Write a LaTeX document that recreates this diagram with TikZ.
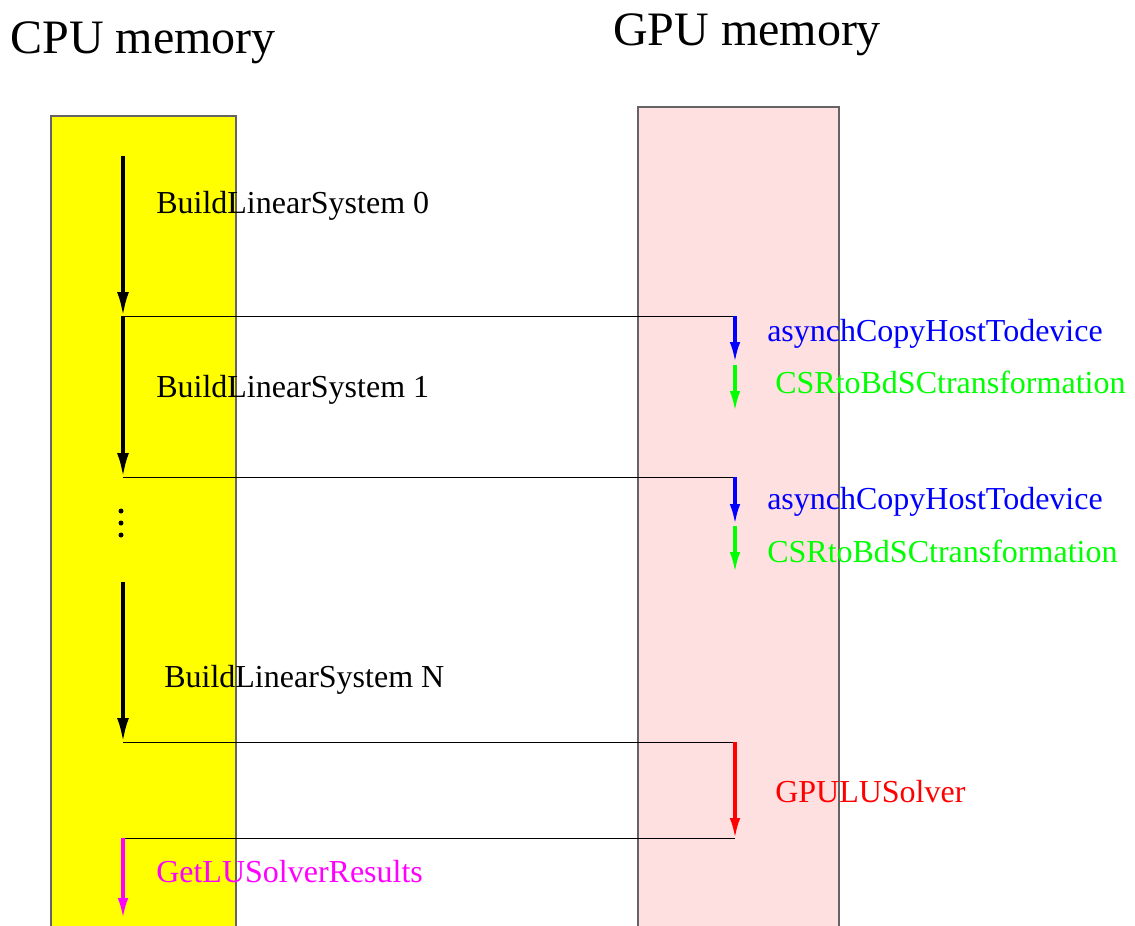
\documentclass[tikz,border=0pt]{standalone}
\usepackage{fontspec}
\setmainfont{Liberation Serif}
\usetikzlibrary{arrows.meta}
\definecolor{cpuyellow}{RGB}{255,255,0}
\definecolor{gpupink}{RGB}{255,224,224}
\definecolor{boxedge}{RGB}{100,100,100}
\definecolor{copyblue}{RGB}{0,0,255}
\definecolor{transgreen}{RGB}{0,255,0}
\definecolor{solvered}{RGB}{255,0,0}
\definecolor{resmagenta}{RGB}{255,0,255}
\begin{document}
\begin{tikzpicture}[x=0.75pt,y=-0.75pt,line cap=butt,line join=miter,
  title/.style={font=\fontsize{36}{40}\selectfont},
  lbl/.style={anchor=west,inner sep=0pt,font=\fontsize{24}{26}\selectfont},
  cpuarrow/.style={-{Latex[length=18pt,width=9pt]},line width=2.6pt},
  gpuarrow/.style={-{Latex[length=15pt,width=8pt]},line width=2.3pt},
  link/.style={line width=0.7pt}]
\useasboundingbox (0,0) rectangle (1135,925);
% memory columns
\fill[cpuyellow] (51,116) rectangle (236,930);
\draw[boxedge,line width=0.8pt] (51,930) -- (51,116) -- (236,116) -- (236,930);
\fill[gpupink] (638,107) rectangle (839,930);
\draw[boxedge,line width=0.8pt] (638,930) -- (638,107) -- (839,107) -- (839,930);
\node[title] (cpu) at (143,43) {CPU memory};
\node[title] (gpu) at (747,35) {GPU memory};
% cpu side points
\coordinate (c0) at (123,156);
\coordinate (c1) at (123,316);
\coordinate (c2) at (123,477);
\coordinate (c3) at (123,582);
\coordinate (c4) at (123,742);
\coordinate (c5) at (123,838);
\coordinate (c6) at (123,918);
% gpu side points
\coordinate (g1) at (735,316);
\coordinate (g1a) at (735,362);
\coordinate (g1b) at (735,365);
\coordinate (g1c) at (735,411);
\coordinate (g2) at (735,477);
\coordinate (g2a) at (735,524);
\coordinate (g2b) at (735,526);
\coordinate (g2c) at (735,572);
\coordinate (g3) at (735,742);
\coordinate (g4) at (735,838);
% build steps
\draw[cpuarrow] (c0) -- (c1);
\draw[cpuarrow] (c1) -- (c2);
\draw[cpuarrow] (c3) -- (c4);
\fill (121,511) circle (2.5) (121,523) circle (2.5) (121,535) circle (2.5);
\node[lbl] (b0) at (156,206) {BuildLinearSystem 0};
\node[lbl] (b1) at (156,390) {BuildLinearSystem 1};
\node[lbl] (bn) at (164,680) {BuildLinearSystem N};
% transfers
\draw[link] (c1) -- (g1);
\draw[link] (c2) -- (g2);
\draw[link] (c4) -- (g3);
\draw[link] (g4) -- (c5);
\draw[gpuarrow,copyblue] (g1) -- (g1a);
\draw[gpuarrow,transgreen] (g1b) -- (g1c);
\draw[gpuarrow,copyblue] (g2) -- (g2a);
\draw[gpuarrow,transgreen] (g2b) -- (g2c);
\draw[gpuarrow,solvered] (g3) -- (g4);
\draw[gpuarrow,resmagenta] (c5) -- (c6);
\node[lbl,copyblue] (a1) at (767,334) {asynchCopyHostTodevice};
\node[lbl,transgreen] (t1) at (775,382) {CSRtoBdSCtransformation};
\node[lbl,copyblue] (a2) at (767,502) {asynchCopyHostTodevice};
\node[lbl,transgreen] (t2) at (767,551) {CSRtoBdSCtransformation};
\node[lbl,solvered] (lu) at (775,792) {GPULUSolver};
\node[lbl,resmagenta] (res) at (156,872) {GetLUSolverResults};
\end{tikzpicture}
\end{document}
